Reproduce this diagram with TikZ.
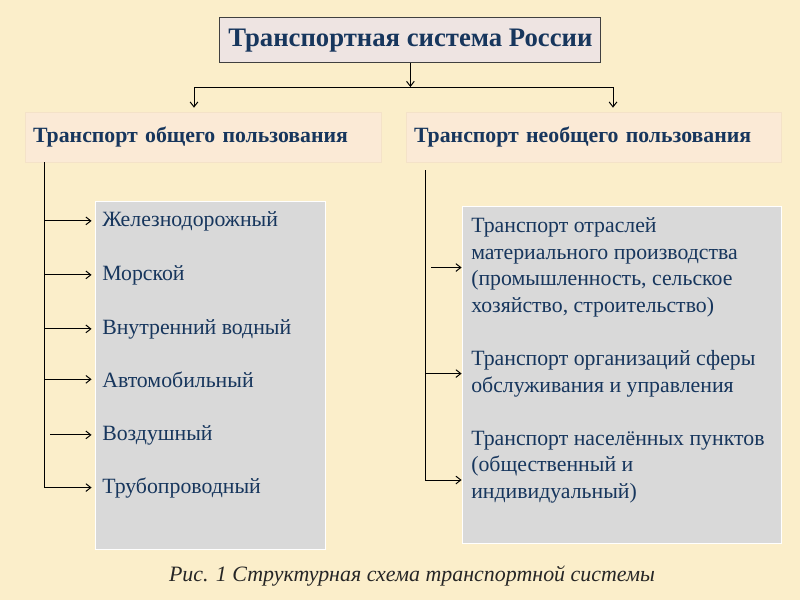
\documentclass[tikz,border=0pt]{standalone}
\usepackage{fontspec}
\setmainfont{Liberation Serif}
\usetikzlibrary{arrows.meta,calc}
\definecolor{bgyellow}{RGB}{251,238,202}
\definecolor{titlefill}{RGB}{238,228,226}
\definecolor{peach}{RGB}{251,234,214}
\definecolor{peachline}{RGB}{244,226,200}
\definecolor{greyfill}{RGB}{217,217,217}
\definecolor{navy}{RGB}{23,54,93}
\definecolor{captiontext}{RGB}{38,38,38}
\begin{document}
\begin{tikzpicture}[
    tip/.style={-{Straight Barb[length=3.5pt,width=5.5pt]},line width=0.7pt},
    line/.style={line width=0.7pt},
    headbox/.style={fill=peach,draw=peachline,line width=0.5pt,minimum height=1.25cm,inner xsep=0.2cm,align=left,font=\fontsize{15.5}{18.6}\selectfont\bfseries,text=navy},
    listbox/.style={fill=greyfill,draw=white,line width=0.6pt},
    item/.style={anchor=base west,inner xsep=0.1cm,font=\fontsize{15.5}{18.85}\selectfont,text=navy,align=left}
]
    \fill[bgyellow] (0,0) rectangle (20,-15);
    \useasboundingbox (0,0) rectangle (20,-15);
    % top of the scheme
    \node[draw=black!75,fill=titlefill,line width=0.8pt,minimum width=9.525cm,minimum height=1.125cm,font=\fontsize{19}{23}\selectfont\bfseries,text=navy] (title) at (10.26,-1.01) {Транспортная система России};
    \node[headbox,minimum width=8.9cm,text width=8.5cm] (public) at (5.075,-3.425) {Транспорт общего пользования};
    \node[headbox,minimum width=9.375cm,text width=8.975cm] (private) at (14.8375,-3.425) {Транспорт необщего пользования};
    \coordinate (jl) at (4.85,-2.175);
    \coordinate (jr) at (15.325,-2.175);
    \draw[tip] (title.south) -- (title.south |- jl);
    \draw[line] (jl) -- (jr);
    \draw[tip,shorten >=0.1cm] (jl) -- (jl |- public.north);
    \draw[tip,shorten >=0.1cm] (jr) -- (jr |- private.north);
    % left column
    \node[listbox,minimum width=5.75cm,minimum height=8.7cm] (modes) at (5.25,-9.375) {};
    \node[item] (m1) at (2.45,-5.65) {Железнодорожный};
    \node[item] (m2) at (2.45,-7.0) {Морской};
    \node[item] (m3) at (2.45,-8.35) {Внутренний водный};
    \node[item] (m4) at (2.45,-9.675) {Автомобильный};
    \node[item] (m5) at (2.45,-11.0) {Воздушный};
    \node[item] (m6) at (2.45,-12.325) {Трубопроводный};
    \coordinate (lx) at (1.1,0);
    \draw[line] (public.south -| lx) -- (lx |- m6.west);
    \draw[tip,shorten >=0.075cm] (lx |- m1.west) -- (modes.west |- m1.west);
    \draw[tip,shorten >=0.075cm] (lx |- m2.west) -- (modes.west |- m2.west);
    \draw[tip,shorten >=0.075cm] (lx |- m3.west) -- (modes.west |- m3.west);
    \draw[tip,shorten >=0.075cm] (lx |- m4.west) -- (modes.west |- m4.west);
    \draw[tip,shorten >=0.075cm] ($(lx |- m5.west)+(0.15,0)$) -- (modes.west |- m5.west);
    \draw[tip,shorten >=0.075cm] (lx |- m6.west) -- (modes.west |- m6.west);
    % right column (base = last line)
    \node[listbox,minimum width=7.975cm,minimum height=8.425cm] (users) at (15.5375,-9.3625) {};
    \node[item] (u1) at (11.675,-7.81) {Транспорт отраслей\\материального производства\\(промышленность, сельское\\хозяйство, строительство)};
    \node[item] (u2) at (11.675,-9.8) {Транспорт организаций сферы\\обслуживания и управления};
    \node[item] (u3) at (11.675,-12.45) {Транспорт населённых пунктов\\(общественный и\\индивидуальный)};
    \coordinate (rtop) at (10.625,-4.25);
    \coordinate (rend) at (10.625,-12.0);
    \draw[line] (rtop) -- (rend);
    \draw[tip] ($(rtop |- u1.west)+(0.15,0)$) -- (users.west |- u1.west);
    \draw[tip] (rtop |- u2.west) -- (users.west |- u2.west);
    \draw[tip] (rend) -- (rend -| users.west);
    % caption
    \node[font=\fontsize{15.6}{18}\selectfont\itshape,text=captiontext] (caption) at (10.3,-14.4) {Рис. 1 Структурная схема транспортной системы};
\end{tikzpicture}
\end{document}
